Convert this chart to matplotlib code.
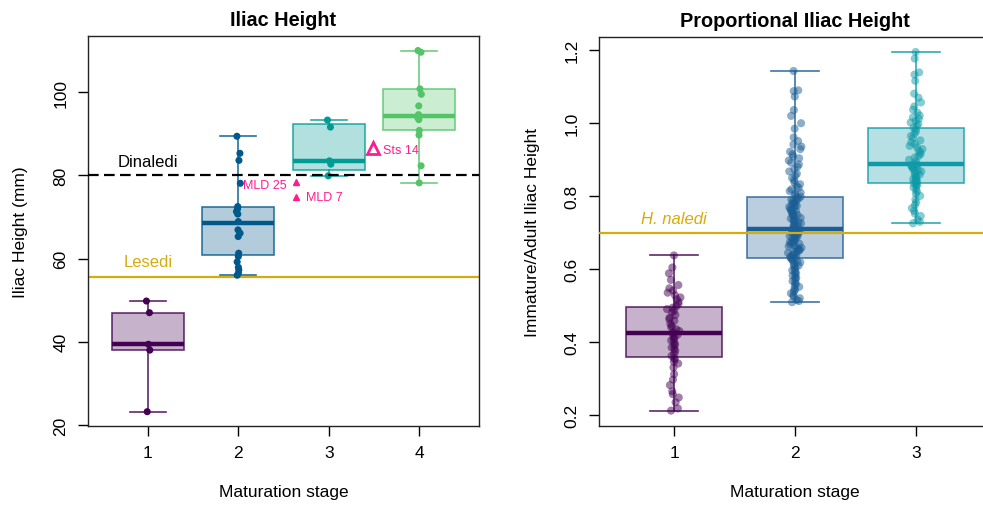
import numpy as np
import matplotlib
matplotlib.use("Agg")
import matplotlib.pyplot as plt

plt.rcParams['font.family'] = ['Liberation Sans', 'DejaVu Sans']

# ---- left panel: iliac height (mm) ----
stages_l = [1, 2, 3, 4]
pts_l = [
    [49.8, 47.0, 39.4, 38.0, 23.2],
    [89.4, 85.3, 83.6, 78.1, 72.5, 71.9, 71.3, 70.7, 68.9, 66.9, 66.1, 65.3,
     61.3, 60.5, 59.2, 57.9, 57.3, 56.5, 56.0],
    [93.3, 91.6, 83.5, 82.7, 79.9],
    [110.0, 109.6, 100.8, 99.5, 96.7, 94.6, 94.0, 93.4, 90.8, 89.7, 82.3, 78.2],
]
q1_l = [38.0, 60.8, 81.3, 91.0]
med_l = [39.4, 68.5, 83.5, 94.3]
q3_l = [47.0, 72.3, 92.3, 100.8]
lo_l = [23.2, 56.0, 79.8, 78.2]
hi_l = [49.8, 89.4, 93.3, 110.0]
colors_l = ['#440154', '#00588B', '#009B95', '#53C568']

dinaledi = 80.0
lesedi = 55.6
specimens = ['MLD 25', 'MLD 7', 'Sts 14']
spec_x = [2.64, 2.64, 3.49]
spec_y = [78.3, 74.7, 86.5]

# ---- right panel: proportional iliac height ----
stages_r = [1, 2, 3]
pts_r = [
    [0.212, 0.218, 0.235, 0.248, 0.257, 0.265, 0.282, 0.297, 0.312, 0.330,
     0.341, 0.346, 0.352, 0.356, 0.362, 0.368, 0.376, 0.381, 0.385, 0.390,
     0.394, 0.399, 0.404, 0.408, 0.412, 0.417, 0.420, 0.424, 0.427, 0.430,
     0.435, 0.440, 0.444, 0.450, 0.458, 0.462, 0.467, 0.474, 0.481, 0.486,
     0.490, 0.494, 0.498, 0.504, 0.510, 0.517, 0.522, 0.528, 0.535, 0.541,
     0.547, 0.556, 0.570, 0.588, 0.604, 0.637],
    [0.509, 0.512, 0.515, 0.520, 0.524, 0.528, 0.533, 0.538, 0.542, 0.546,
     0.551, 0.555, 0.559, 0.563, 0.567, 0.571, 0.575, 0.578, 0.582, 0.585,
     0.589, 0.592, 0.596, 0.599, 0.603, 0.606, 0.609, 0.612, 0.615, 0.618,
     0.621, 0.624, 0.626, 0.628, 0.630,
     0.632, 0.634, 0.637, 0.639, 0.641, 0.644, 0.646, 0.648, 0.651, 0.653,
     0.655, 0.658, 0.660, 0.662, 0.665, 0.667, 0.669, 0.672, 0.674, 0.676,
     0.679, 0.681, 0.683, 0.686, 0.688, 0.690, 0.693, 0.695, 0.697, 0.699,
     0.701, 0.703, 0.705, 0.706, 0.708,
     0.710, 0.713, 0.715, 0.718, 0.720, 0.723, 0.725, 0.728, 0.730, 0.733,
     0.735, 0.738, 0.740, 0.743, 0.745, 0.748, 0.750, 0.753, 0.755, 0.758,
     0.760, 0.763, 0.765, 0.768, 0.770, 0.773, 0.775, 0.778, 0.780, 0.783,
     0.785, 0.788, 0.790, 0.793, 0.795,
     0.798, 0.802, 0.806, 0.809, 0.813, 0.818, 0.822, 0.827, 0.832, 0.837,
     0.843, 0.849, 0.855, 0.861, 0.867, 0.873, 0.880, 0.886, 0.891, 0.897,
     0.903, 0.908, 0.914, 0.921, 0.928, 0.935, 0.941, 0.950, 0.960, 0.984,
     0.999, 1.019, 1.035, 1.072, 1.087, 1.089, 1.142],
    [0.725, 0.729, 0.735, 0.745, 0.752, 0.759, 0.766, 0.775, 0.782, 0.790,
     0.800, 0.806, 0.812, 0.818, 0.823, 0.827, 0.830, 0.833, 0.835,
     0.838, 0.841, 0.844, 0.846, 0.849, 0.852, 0.855, 0.858, 0.861, 0.864,
     0.867, 0.870, 0.873, 0.876, 0.878, 0.880, 0.882, 0.884, 0.886,
     0.889, 0.894, 0.899, 0.905, 0.909, 0.914, 0.919, 0.923, 0.928, 0.933,
     0.937, 0.942, 0.947, 0.952, 0.958, 0.964, 0.970, 0.976, 0.982,
     0.987, 0.992, 0.997, 1.001, 1.006, 1.011, 1.015, 1.020, 1.028, 1.036,
     1.045, 1.056, 1.069, 1.080, 1.115, 1.132, 1.138, 1.176, 1.194],
]
q1_r = [0.359, 0.631, 0.836]
med_r = [0.425, 0.709, 0.887]
q3_r = [0.496, 0.796, 0.985]
lo_r = [0.211, 0.509, 0.725]
hi_r = [0.637, 1.142, 1.194]
colors_r = ['#440154', '#1B5E95', '#0E9AA7']

h_naledi = 0.698

GOLD = '#D4AC0D'
PINK = '#FF1D8E'
FS = 12.5


def jitter(n, w):
    # deterministic, centre-weighted horizontal spread (no stacking)
    i = np.arange(n)
    a = (i * i * 0.618034 + 0.17) % 1.0
    b = (i * i * 0.754878 + i * 0.569840 + 0.42) % 1.0
    return (a + b - 1.0) * w


def draw_boxes(ax, pos, q1, med, q3, lo, hi, cols):
    stats = [dict(q1=a, med=b, q3=c, whislo=d, whishi=e, fliers=[])
             for a, b, c, d, e in zip(q1, med, q3, lo, hi)]
    bp = ax.bxp(stats, positions=pos, widths=0.8, patch_artist=True,
                showfliers=False, manage_ticks=False)
    for i, c in enumerate(cols):
        bp['boxes'][i].set(facecolor=matplotlib.colors.to_rgba(c, 0.3),
                           edgecolor=matplotlib.colors.to_rgba(c, 0.8), linewidth=1.2)
        bp['medians'][i].set(color=c, linewidth=3.2, solid_capstyle='butt')
        for ln in bp['whiskers'][2 * i:2 * i + 2] + bp['caps'][2 * i:2 * i + 2]:
            ln.set(color=matplotlib.colors.to_rgba(c, 0.85), linewidth=1.2)


def style_axes(ax):
    ax.tick_params(direction='out', length=7, width=1, labelsize=FS, pad=7)
    ax.tick_params(axis='y', labelrotation=90)
    for lab in ax.get_yticklabels():
        lab.set_va('center')
    for s in ax.spines.values():
        s.set_linewidth(1)
        s.set_color('#222222')


fig = plt.figure(figsize=(9.83, 5.10), dpi=100)
ax1 = fig.add_axes([88 / 983, 83 / 510, 391 / 983, 390 / 510])
ax2 = fig.add_axes([599 / 983, 83 / 510, 392 / 983, 389 / 510])

# ---- left panel ----
ax1.axhline(lesedi, color=GOLD, lw=1.6, zorder=1)
ax1.axhline(dinaledi, color='black', lw=1.6, dashes=(4.8, 2.4), zorder=4)
draw_boxes(ax1, stages_l, q1_l, med_l, q3_l, lo_l, hi_l, colors_l)
for s, vals, c in zip(stages_l, pts_l, colors_l):
    ax1.scatter(s + jitter(len(vals), 0.035), vals, s=26, color=c,
                edgecolors='none', zorder=3)
ax1.text(1, dinaledi + 3.3, 'Dinaledi', ha='center', va='center', fontsize=12)
ax1.text(1, lesedi + 3.7, 'Lesedi', ha='center', va='center', fontsize=12,
         color=GOLD)

ax1.plot(spec_x[:2], spec_y[:2], ls='none', marker='^', ms=5, color=PINK, zorder=5)
ax1.plot(spec_x[2], spec_y[2], ls='none', marker='^', ms=8, mfc='none',
         mec=PINK, mew=2, zorder=5)
ax1.annotate(specimens[0], (spec_x[0], spec_y[0]), xytext=(-7, -2),
             textcoords='offset points', ha='right', va='center',
             fontsize=9, color=PINK)
ax1.annotate(specimens[1], (spec_x[1], spec_y[1]), xytext=(7, 0),
             textcoords='offset points', ha='left', va='center',
             fontsize=9, color=PINK)
ax1.annotate(specimens[2], (spec_x[2], spec_y[2]), xytext=(7, -1),
             textcoords='offset points', ha='left', va='center',
             fontsize=9, color=PINK)

ax1.set_xlim(0.34, 4.66)
ax1.set_ylim(19.76, 113.5)
ax1.set_xticks(stages_l)
ax1.set_yticks([20, 40, 60, 80, 100])
ax1.set_title('Iliac Height', fontsize=14.3, fontweight='bold', pad=8)
ax1.set_xlabel('Maturation stage', fontsize=FS)
ax1.set_ylabel('Iliac Height (mm)', fontsize=FS)
ax1.xaxis.set_label_coords(0.5, -0.15)
ax1.yaxis.set_label_coords(-0.153, 0.5)
style_axes(ax1)

# ---- right panel ----
ax2.axhline(h_naledi, color=GOLD, lw=1.6, zorder=4)
draw_boxes(ax2, stages_r, q1_r, med_r, q3_r, lo_r, hi_r, colors_r)
for s, vals, c in zip(stages_r, pts_r, colors_r):
    ax2.scatter(s + jitter(len(vals), 0.06), vals, s=34, color=c, alpha=0.5,
                edgecolors='none', zorder=3)
ax2.text(1, h_naledi + 0.04, 'H. naledi', ha='center', va='center',
         fontsize=12, color=GOLD, style='italic')

ax2.set_xlim(0.38, 3.62)
ax2.set_ylim(0.17, 1.235)
ax2.set_xticks(stages_r)
ax2.set_yticks([0.2, 0.4, 0.6, 0.8, 1.0, 1.2])
ax2.set_yticklabels(['0.2', '0.4', '0.6', '0.8', '1.0', '1.2'])
ax2.set_title('Proportional Iliac Height', fontsize=14.3, fontweight='bold', pad=8)
ax2.set_xlabel('Maturation stage', fontsize=FS)
ax2.set_ylabel('Immature/Adult Iliac Height', fontsize=FS)
ax2.xaxis.set_label_coords(0.5, -0.15)
ax2.yaxis.set_label_coords(-0.151, 0.5)
style_axes(ax2)

fig.savefig('out.png', dpi=100)
plt.close(fig)
